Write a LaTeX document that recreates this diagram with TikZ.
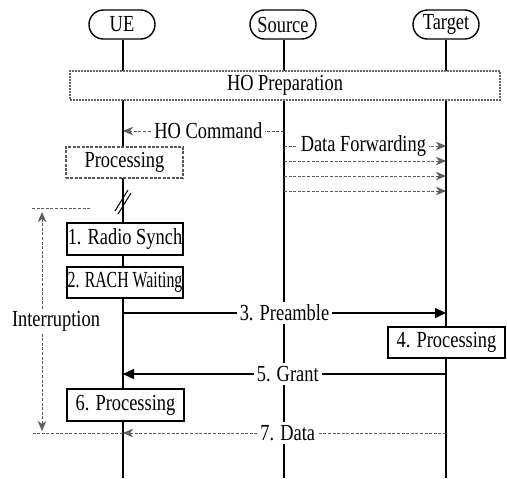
\documentclass[tikz,border=0pt]{standalone}
\usepackage{fontspec}
\setmainfont[FakeStretch=0.8]{Liberation Serif}
\usepackage{graphicx}
\usetikzlibrary{arrows.meta}
\tikzset{gtip/.tip={Stealth[length=5pt,width=4.2pt,inset=1.5pt,fill=black!60]}}
\begin{document}
\begin{tikzpicture}[x=0.5pt,y=-0.5pt,
  font=\fontsize{11.5}{13}\selectfont,
  actor/.style={draw, line width=0.7pt, rounded corners=7.2pt, minimum width=33pt, minimum height=14.5pt, inner sep=0pt},
  life/.style={line width=0.75pt},
  stepbox/.style={draw, line width=0.7pt, minimum width=58pt, minimum height=16pt, inner sep=0pt, fill=white},
  dbox/.style={stepbox, draw=black!65, dash pattern=on 1.5pt off 0.7pt},
  prepbox/.style={draw=black!60, line width=0.7pt, dash pattern=on 1pt off 0.5pt, fill=white, minimum width=215pt, minimum height=14.5pt, inner sep=0pt},
  dline/.style={draw=black!65, line width=0.5pt, dash pattern=on 1.5pt off 0.8pt},
  dmsg/.style={dline, -gtip},
  smsg/.style={line width=0.7pt, -{Triangle[length=5.5pt,width=5pt]}},
  lbl/.style={fill=white, inner sep=1.5pt, text=black}
]
\useasboundingbox (0,0) rectangle (507,478);

% actors
\node[actor] (ue)  at (122,24.5) {UE};
\node[actor] (src) at (283,24.5) {Source};
\node[actor] (tgt) at (446,24.5) {Target};
\coordinate (ueB)  at (123,478);
\coordinate (srcB) at (284,478);
\coordinate (tgtB) at (446,478);
\draw[life] (ue.south -| ueB) -- (ueB);
\draw[life] (src.south -| srcB) -- (srcB);
\draw[life] (tgt.south -| tgtB) -- (tgtB);

% HO preparation
\node[prepbox] (prep) at (285,85.5) {HO Preparation};

% HO command
\coordinate (cmdS) at (284,131);
\coordinate (cmdU) at (123,131);
\draw[dmsg] (cmdS) -- node[lbl, pos=0.47] {HO Command} (cmdU);

% data forwarding
\coordinate (df1S) at (284,146); \coordinate (df1T) at (446,146);
\coordinate (df2S) at (284,161); \coordinate (df2T) at (446,161);
\coordinate (df3S) at (284,176); \coordinate (df3T) at (446,176);
\coordinate (df4S) at (284,191); \coordinate (df4T) at (446,191);
\draw[dmsg] (df1S) -- node[lbl, pos=0.49] {Data Forwarding} (df1T);
\draw[dmsg] (df2S) -- (df2T);
\draw[dmsg] (df3S) -- (df3T);
\draw[dmsg] (df4S) -- (df4T);

% processing (dashed)
\node[dbox, minimum width=58.5pt, minimum height=15.5pt] (proc) at (124.5,162.5) {Processing};

% break marks
\coordinate (sl1a) at (115,211); \coordinate (sl1b) at (128,190);
\coordinate (sl2a) at (118,214); \coordinate (sl2b) at (131,193);
\draw[line width=0.5pt] (sl1a) -- (sl1b);
\draw[line width=0.5pt] (sl2a) -- (sl2b);

% steps
\node[stepbox] (rs) at (125,239) {1. Radio Synch};
\node[stepbox, minimum height=15.5pt] (rach) at (125,282.5) {\scalebox{0.86}[1]{2. RACH Waiting}};

% preamble
\coordinate (preU) at (123,313);
\coordinate (preT) at (446,313);
\draw[smsg] (preU) -- node[lbl] {3. Preamble} (preT);

\node[stepbox, minimum width=58.5pt, minimum height=15.5pt] (p4) at (446.5,342.5) {4. Processing};

% grant
\coordinate (grT) at (446,374);
\coordinate (grU) at (123,374);
\draw[smsg] (grT) -- node[lbl, pos=0.49] {5. Grant} (grU);

\node[stepbox, minimum width=58.5pt] (p6) at (125.5,405) {6. Processing};

% data
\coordinate (daT) at (446,433);
\coordinate (daU) at (123,433);
\coordinate (daL) at (32,433);
\draw[dmsg] (daT) -- node[lbl, pos=0.49] {7. Data} (daU);
\draw[dline] (daU) -- (daL);

% interruption
\coordinate (itL) at (32,208);
\coordinate (itR) at (90,208);
\coordinate (ivT) at (42,208);
\coordinate (ivB) at (42,433);
\draw[dline] (itL) -- (itR);
\draw[dline, gtip-gtip, shorten <=2pt, shorten >=1pt] (ivT) -- (ivB);
\node[lbl, inner sep=1pt] (intr) at (56,321) {Interruption};
\end{tikzpicture}
\end{document}
